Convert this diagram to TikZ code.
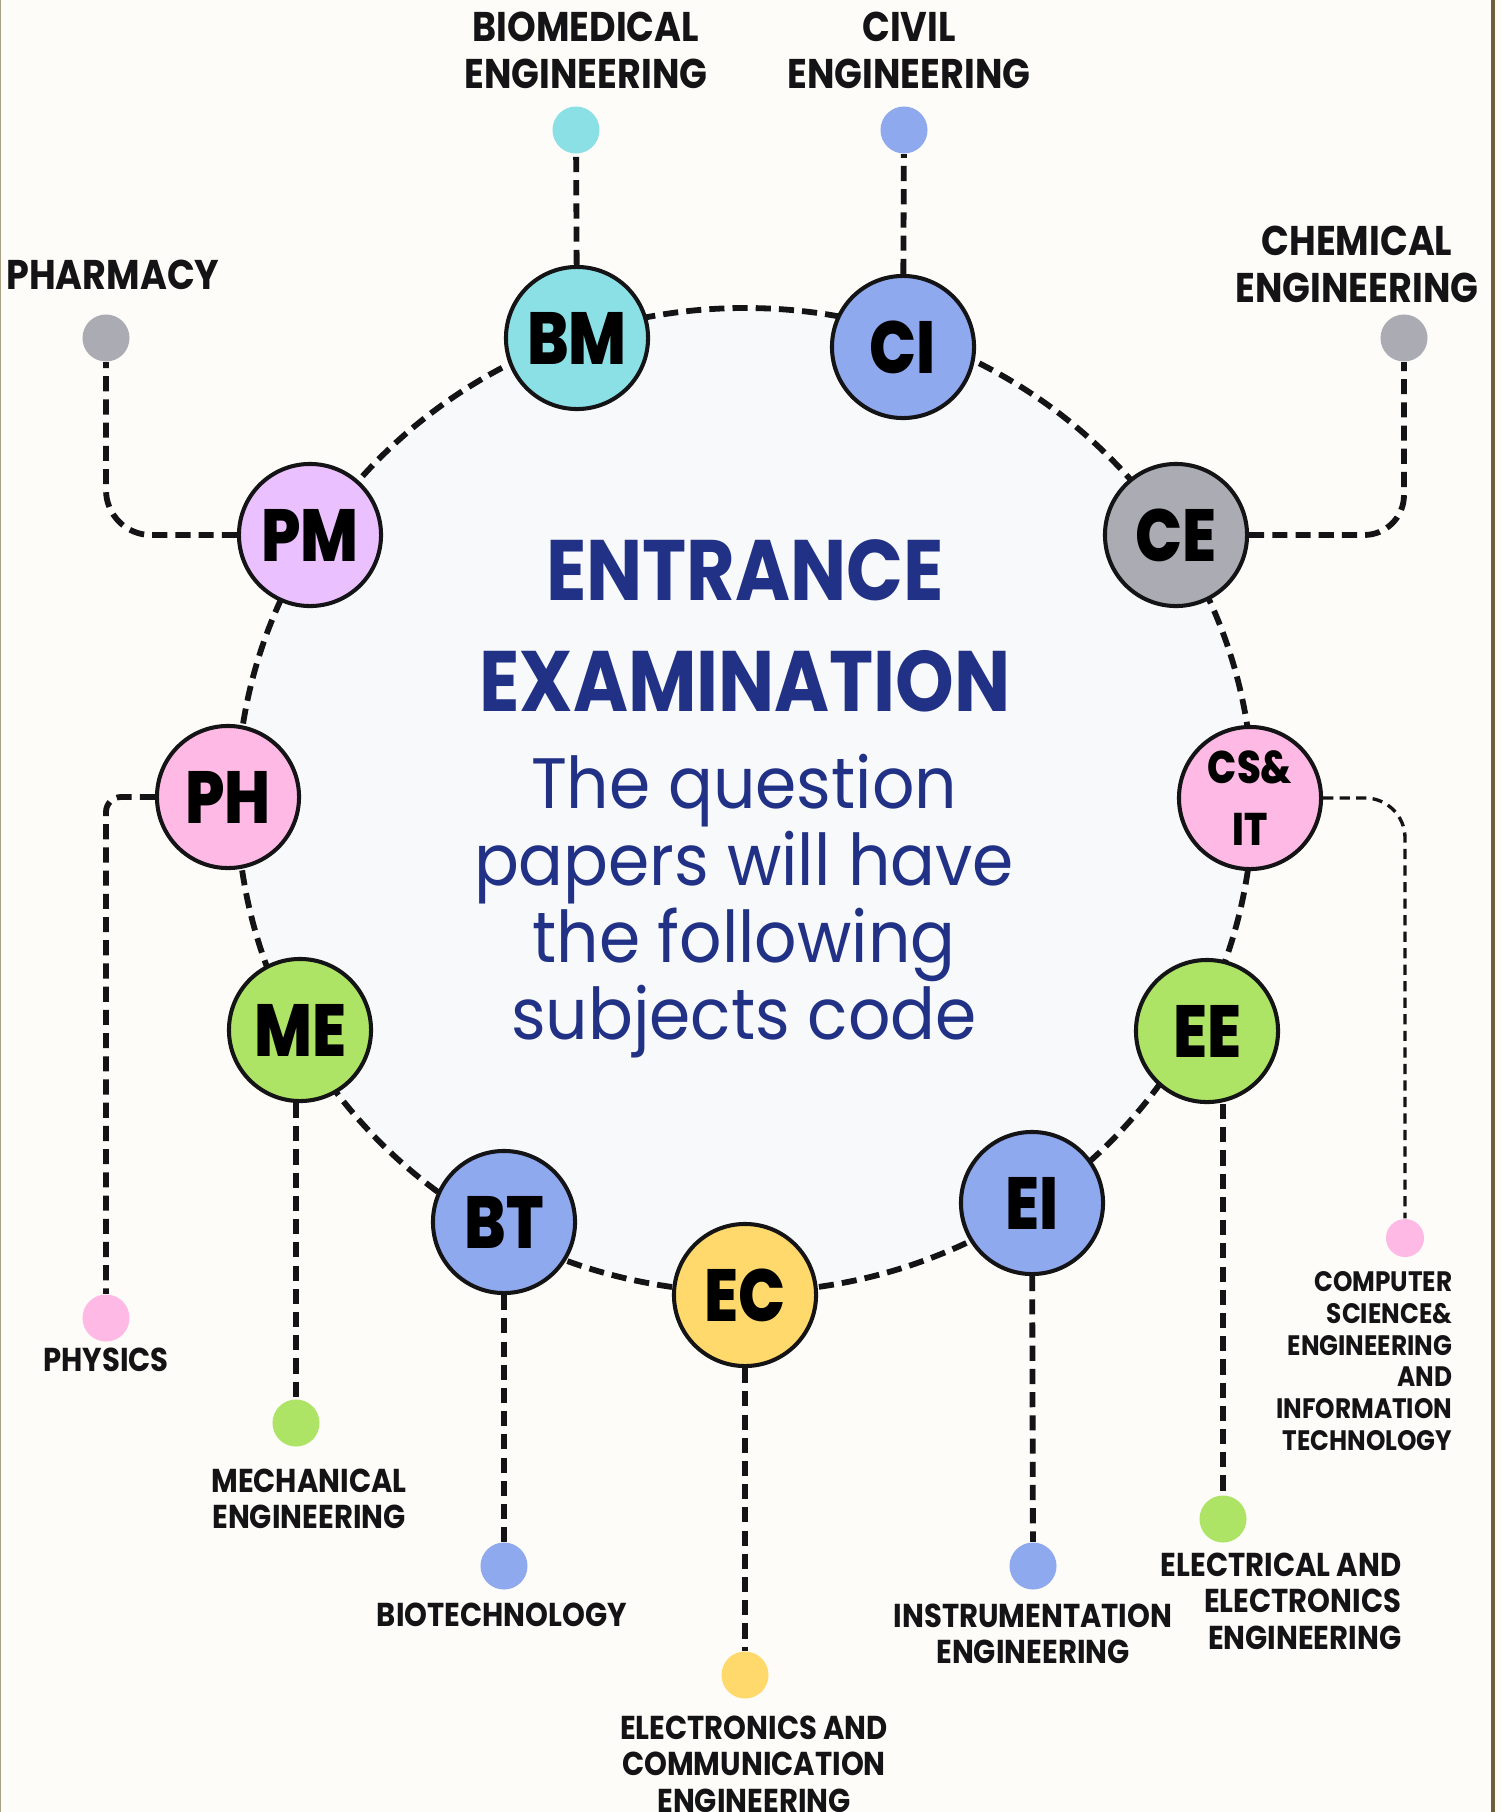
\documentclass[tikz,border=0pt]{standalone}
\usepackage{fontspec}
\setmainfont{Poppins}
\newfontfamily\codefont{Poppins ExtraBold}[FakeStretch=0.84]
\newfontfamily\tagfont{Poppins Bold}[FakeStretch=0.88]
\newfontfamily\titlefont{Poppins Bold}[FakeStretch=0.87]
\newfontfamily\bodyfont{Poppins}[FakeStretch=0.93]

\definecolor{paper}{HTML}{FEFCF8}
\definecolor{ringfill}{HTML}{F8F9FA}
\definecolor{ink}{HTML}{141416}
\definecolor{navy}{HTML}{213186}
\definecolor{aqua}{HTML}{8BE0E6}
\definecolor{periw}{HTML}{8FA9EE}
\definecolor{stone}{HTML}{ABACB3}
\definecolor{rose}{HTML}{FFB9E5}
\definecolor{leaf}{HTML}{AEE466}
\definecolor{sun}{HTML}{FFD96B}
\definecolor{lilac}{HTML}{EBC0FF}
\definecolor{frameL}{HTML}{A8A080}
\definecolor{frameR}{HTML}{6E5E3A}

\tikzset{
  codenode/.style={circle, draw=ink, line width=1.15pt, minimum size=1.42cm, inner sep=0pt,
    font=\codefont\fontsize{21}{21}\selectfont},
  spot/.style={circle, minimum size=0.47cm, inner sep=0pt},
  leader/.style={draw=ink, line width=1.65pt, dash pattern=on 4.3pt off 2.3pt},
  thinleader/.style={draw=ink, line width=0.95pt, dash pattern=on 2.9pt off 1.8pt},
  tagtext/.style={text=ink, align=center, inner sep=0pt, font=\tagfont\fontsize{9.4}{10.4}\selectfont},
  bigtag/.style={tagtext, font=\tagfont\fontsize{11.8}{13.4}\selectfont},
}

\begin{document}
\begin{tikzpicture}[x=0.01cm, y=-0.01cm]
    \fill[paper] (0,0) rectangle (1501,1812);
    \useasboundingbox (0,0) rectangle (1501,1812);
    \fill[frameL] (0,0) rectangle (1.5,1812);
    \fill[frameR] (1491,0) rectangle (1495,1812);

    \draw[leader, fill=ringfill] (745,800) ellipse [x radius=508, y radius=492];

    \node[codenode, fill=aqua]  (bm) at (577,338)  {BM};
    \node[codenode, fill=periw] (ci) at (903,347)  {CI};
    \node[codenode, fill=stone] (ce) at (1176,535) {CE};
    \node[codenode, fill=rose, align=center, font=\codefont\fontsize{13}{17.6}\selectfont]
                                (cs) at (1250,798) {CS\&\\IT};
    \node[codenode, fill=leaf]  (ee) at (1207,1031) {EE};
    \node[codenode, fill=periw] (ei) at (1032,1203) {EI};
    \node[codenode, fill=sun]   (ec) at (745,1295)  {EC};
    \node[codenode, fill=periw] (bt) at (504,1222)  {BT};
    \node[codenode, fill=leaf]  (me) at (300,1030)  {ME};
    \node[codenode, fill=rose]  (ph) at (228,797)   {PH};
    \node[codenode, fill=lilac] (pm) at (310,535)   {PM};

    \node[spot, fill=aqua]  (bmdot) at (576,130)  {};
    \node[spot, fill=periw] (cidot) at (904,130)  {};
    \node[spot, fill=stone] (cedot) at (1404,338) {};
    \node[spot, fill=rose, minimum size=0.38cm] (csdot) at (1405,1238) {};
    \node[spot, fill=leaf]  (eedot) at (1223,1519) {};
    \node[spot, fill=periw] (eidot) at (1033,1566) {};
    \node[spot, fill=sun]   (ecdot) at (745,1675)  {};
    \node[spot, fill=periw] (btdot) at (504,1566)  {};
    \node[spot, fill=leaf]  (medot) at (296,1423)  {};
    \node[spot, fill=rose]  (phdot) at (106,1318)  {};
    \node[spot, fill=stone] (pmdot) at (106,338)   {};

    \draw[leader] (bm) -- (bmdot);
    \draw[leader] (ci) -- (cidot);
    \draw[leader, rounded corners=4mm] (ce) -| (cedot);
    \draw[thinleader, rounded corners=4mm] (cs) -| (csdot);
    \draw[leader] (ee.south -| eedot) -- (eedot);
    \draw[leader] (ei) -- (eidot);
    \draw[leader] (ec) -- (ecdot);
    \draw[leader] (bt) -- (btdot);
    \draw[leader] (me.south -| medot) -- (medot);
    \draw[leader, rounded corners=1.5mm] (ph) -| (phdot);
    \draw[leader, rounded corners=4.5mm] (pm) -| (pmdot);

    \node[bigtag] (bmlab) at (586,50)   {BIOMEDICAL\\ENGINEERING};
    \node[bigtag] (cilab) at (909,50)   {CIVIL\\ENGINEERING};
    \node[bigtag] (celab) at (1357,264) {CHEMICAL\\ENGINEERING};
    \node[bigtag] (pmlab) at (113,275)  {PHARMACY};
    \node[tagtext, align=right, anchor=east, font=\tagfont\fontsize{8}{9}\selectfont]
                  (cslab) at (1453,1361) {COMPUTER\\SCIENCE\&\\ENGINEERING\\AND\\INFORMATION\\TECHNOLOGY};
    \node[tagtext, align=right, anchor=east] (eelab) at (1402,1601) {ELECTRICAL AND\\ELECTRONICS\\ENGINEERING};
    \node[tagtext] (eilab) at (1033,1634) {INSTRUMENTATION\\ENGINEERING};
    \node[tagtext] (eclab) at (754,1764)  {ELECTRONICS AND\\COMMUNICATION\\ENGINEERING};
    \node[tagtext] (btlab) at (502,1615)  {BIOTECHNOLOGY};
    \node[tagtext] (melab) at (309,1499)  {MECHANICAL\\ENGINEERING};
    \node[tagtext] (phlab) at (106,1360)  {PHYSICS};

    \node[text=navy, align=center, font=\titlefont\fontsize{24.4}{31.6}\selectfont]
          (title) at (745,626) {ENTRANCE\\EXAMINATION};
    \node[text=navy, align=center, font=\bodyfont\fontsize{20.3}{21.9}\selectfont]
          (note) at (744,906) {The question\\papers will have\\the following\\subjects code};
\end{tikzpicture}
\end{document}
